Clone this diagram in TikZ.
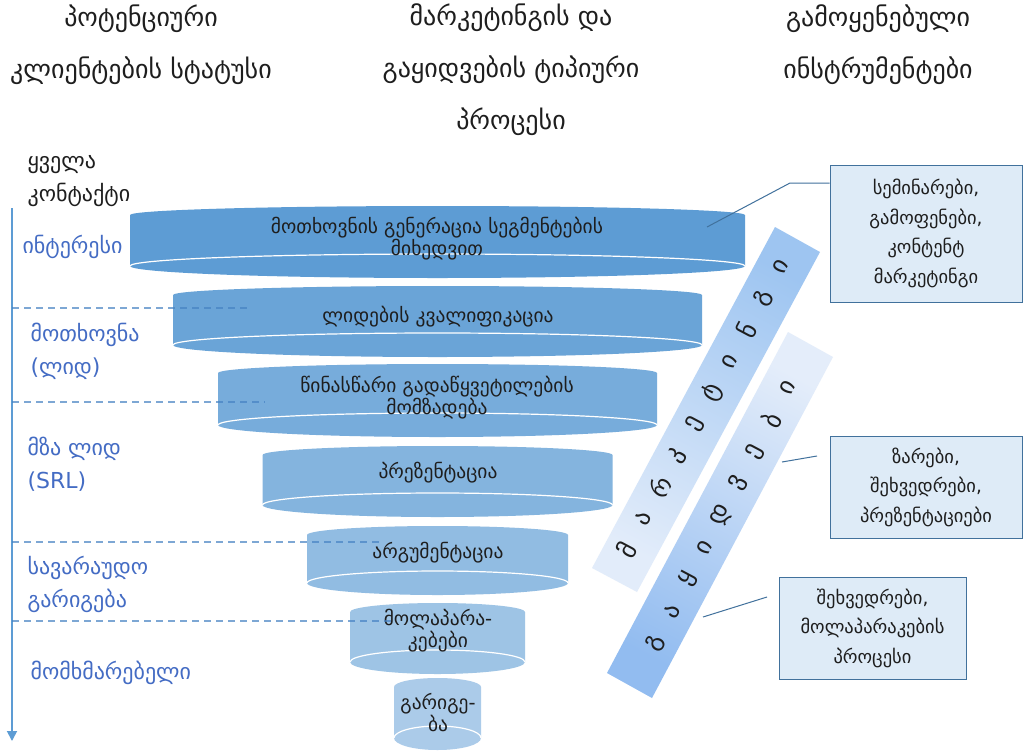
\documentclass[tikz,border=0pt]{standalone}
\usepackage{fontspec}
\setmainfont{DejaVu Sans}
\usetikzlibrary{arrows.meta,calc}
\definecolor{acc}{RGB}{93,156,212}
\definecolor{labblue}{RGB}{68,108,196}
\definecolor{ink}{RGB}{30,30,30}
\definecolor{boxfill}{RGB}{222,235,247}
\definecolor{boxline}{RGB}{65,113,156}
\definecolor{bandAtop}{RGB}{158,197,241}
\definecolor{bandAbot}{RGB}{226,236,250}
\definecolor{bandBtop}{RGB}{228,237,250}
\definecolor{bandBbot}{RGB}{146,188,240}
\definecolor{dashc}{RGB}{70,130,195}
\newcommand{\funnelcyl}[4]{%
  \fill[#4] (437.5-#1,#2) arc[start angle=180,end angle=0,x radius=#1pt,y radius=9pt]
    -- (437.5+#1,#3) arc[start angle=0,end angle=-180,x radius=#1pt,y radius=12pt] -- cycle;
  \draw[white,line width=1.2pt] (437.5-#1,#3) arc[start angle=180,end angle=0,x radius=#1pt,y radius=12pt];
}
\tikzset{
  header/.style={text=ink,align=center,font=\fontsize{26}{52}\selectfont},
  stage/.style={text=labblue,align=left,anchor=west,font=\fontsize{22}{33}\selectfont},
  ftxt/.style={text=ink,align=center,font=\fontsize{19.5}{22}\selectfont},
  tool/.style={draw=boxline,line width=1pt,fill=boxfill,text=ink,align=center,font=\fontsize{18.5}{29.5}\selectfont,inner sep=0pt},
  bandtxt/.style={text=ink,rotate=62,font=\fontsize{25}{26}\selectfont},
  leader/.style={draw=boxline,line width=1pt},
  sep/.style={draw=dashc,opacity=0.7,line width=1.3pt,dash pattern=on 7pt off 5pt}
}
\begin{document}
\begin{tikzpicture}[x=1pt,y=-1pt]
\useasboundingbox[fill=white] (0,0) rectangle (1025,753);

% headers
\node[header] (h1) at (141,45) {პოტენციური\\კლიენტების სტატუსი};
\node[header] (h2) at (511,70) {მარკეტინგის და\\გაყიდვების ტიპიური\\პროცესი};
\node[header] (h3) at (878,45) {გამოყენებული\\ინსტრუმენტები};

% funnel cylinders
\funnelcyl{307.5}{215}{266}{acc}
\funnelcyl{264.5}{295}{345}{acc!92!white}
\funnelcyl{219.5}{373}{425}{acc!84!white}
\funnelcyl{175}{455}{505}{acc!76!white}
\funnelcyl{130.5}{535}{583}{acc!68!white}
\funnelcyl{87.5}{612}{662}{acc!60!white}
\funnelcyl{43.5}{687}{738}{acc!52!white}

\node[ftxt] (f1) at (437,239) {მოთხოვნის გენერაცია სეგმენტების\\მიხედვით};
\node[ftxt] (f2) at (438,317) {ლიდების კვალიფიკაცია};
\node[ftxt] (f3) at (437,398) {წინასწარი გადაწყვეტილების\\მომზადება};
\node[ftxt] (f4) at (438,473) {პრეზენტაცია};
\node[ftxt] (f5) at (438,553) {არგუმენტაცია};
\node[ftxt] (f6) at (438,631) {მოლაპარა-\\კებები};
\node[ftxt] (f7) at (438,713) {გარიგე-\\ბა};

% left axis
\coordinate (axtop) at (12,208);
\coordinate (axbot) at (12,741);
\draw[acc,line width=1.8pt,-{Triangle[width=10pt,length=10pt]}] (axtop) -- (axbot);

\node[text=ink,align=left,anchor=west,font=\fontsize{22}{33}\selectfont] (s0) at (24,181) {ყველა\\კონტაქტი};
\node[stage] (s1) at (19,247) {ინტერესი};
\node[stage] (s2) at (27,351) {მოთხოვნა\\(ლიდ)};
\node[stage] (s3) at (24,464) {მზა ლიდ\\(SRL)};
\node[stage] (s4) at (24,584) {სავარაუდო\\გარიგება};
\node[stage] (s5) at (27,673) {მომხმარებელი};

% separators
\coordinate (d1a) at (12,308); \coordinate (d1b) at (250,308);
\coordinate (d2a) at (12,402); \coordinate (d2b) at (265,402);
\coordinate (d3a) at (12,542); \coordinate (d3b) at (380,542);
\coordinate (d4a) at (12,621); \coordinate (d4b) at (392,621);
\draw[sep] (d1a) -- (d1b);
\draw[sep] (d2a) -- (d2b);
\draw[sep] (d3a) -- (d3b);
\draw[sep] (d4a) -- (d4b);

% bands
\shade[top color=bandAtop,bottom color=bandAbot,shading angle=-28]
  (592,568) -- (637,592) -- (820,252) -- (775,227) -- cycle;
\shade[top color=bandBtop,bottom color=bandBbot,shading angle=-28]
  (607,673) -- (652,698) -- (833,357) -- (788,332) -- cycle;
\foreach \ch [count=\i from 0] in {მ,ა,რ,კ,ე,ტ,ი,ნ,გ,ი}
  \node[bandtxt] (ba\i) at ($(626,550)+\i*(17.2,-31.44)$) {\ch};
\foreach \ch [count=\i from 0] in {გ,ა,ყ,ი,დ,ვ,ე,ბ,ი}
  \node[bandtxt] (bb\i) at ($(655,643)+\i*(16.6,-31.9)$) {\ch};

% tool boxes
\node[tool,minimum width=192pt,minimum height=137pt] (t1) at (926,233.5) {სემინარები,\\გამოფენები,\\კონტენტ\\მარკეტინგი};
\node[tool,minimum width=192pt,minimum height=102pt] (t2) at (926,487) {ზარები,\\შეხვედრები,\\პრეზენტაციები};
\node[tool,minimum width=187pt,minimum height=102pt] (t3) at (872.5,628) {შეხვედრები,\\მოლაპარაკების\\პროცესი};

% leaders
\coordinate (l1a) at (707,227); \coordinate (l1b) at (790,183);
\draw[leader] (l1a) -- (l1b) -- (l1b -| t1.west);
\coordinate (l2a) at (782,462); \coordinate (l2b) at (817,456);
\draw[leader] (l2a) -- (l2b);
\coordinate (l3a) at (703,617); \coordinate (l3b) at (767,597);
\draw[leader] (l3a) -- (l3b);
\end{tikzpicture}
\end{document}
